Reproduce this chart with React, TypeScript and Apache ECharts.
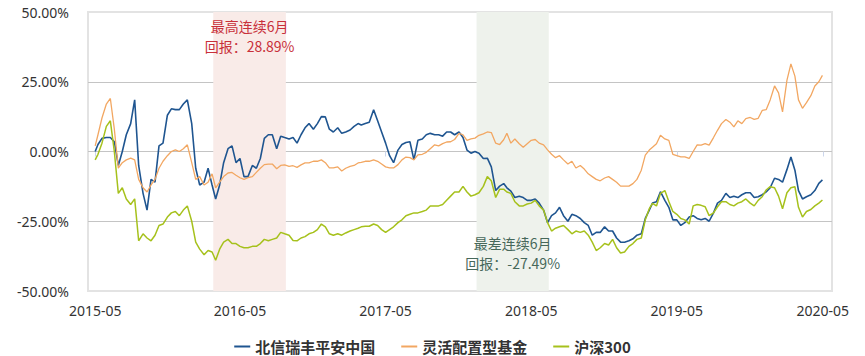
import React, { useEffect, useRef } from 'react';
import * as echarts from 'echarts';

// Sample dates (roughly every 10 days)
const dates = [
  '2015-05-04', '2015-05-11', '2015-05-21',
  '2015-06-01', '2015-06-11', '2015-06-21',
  '2015-07-01', '2015-07-11', '2015-07-21',
  '2015-08-01', '2015-08-11', '2015-08-21',
  '2015-09-01', '2015-09-11', '2015-09-21',
  '2015-10-01', '2015-10-11', '2015-10-21',
  '2015-11-01', '2015-11-11', '2015-11-21',
  '2015-12-01', '2015-12-11', '2015-12-21',
  '2016-01-01', '2016-01-11', '2016-01-21',
  '2016-02-01', '2016-02-11', '2016-02-21',
  '2016-03-01', '2016-03-11', '2016-03-21',
  '2016-04-01', '2016-04-11', '2016-04-21',
  '2016-05-01', '2016-05-11', '2016-05-21',
  '2016-06-01', '2016-06-11', '2016-06-21',
  '2016-07-01', '2016-07-11', '2016-07-21',
  '2016-08-01', '2016-08-11', '2016-08-21',
  '2016-09-01', '2016-09-11', '2016-09-21',
  '2016-10-01', '2016-10-11', '2016-10-21',
  '2016-11-01', '2016-11-11', '2016-11-21',
  '2016-12-01', '2016-12-11', '2016-12-21',
  '2017-01-01', '2017-01-11', '2017-01-21',
  '2017-02-01', '2017-02-11', '2017-02-21',
  '2017-03-01', '2017-03-11', '2017-03-21',
  '2017-04-01', '2017-04-11', '2017-04-21',
  '2017-05-01', '2017-05-11', '2017-05-21',
  '2017-06-01', '2017-06-11', '2017-06-21',
  '2017-07-01', '2017-07-11', '2017-07-21',
  '2017-08-01', '2017-08-11', '2017-08-21',
  '2017-09-01', '2017-09-11', '2017-09-21',
  '2017-10-01', '2017-10-11', '2017-10-21',
  '2017-11-01', '2017-11-11', '2017-11-21',
  '2017-12-01', '2017-12-11', '2017-12-21',
  '2018-01-01', '2018-01-11', '2018-01-21',
  '2018-02-01', '2018-02-11', '2018-02-21',
  '2018-03-01', '2018-03-11', '2018-03-21',
  '2018-04-01', '2018-04-11', '2018-04-21',
  '2018-05-01', '2018-05-11', '2018-05-21',
  '2018-06-01', '2018-06-11', '2018-06-21',
  '2018-07-01', '2018-07-11', '2018-07-21',
  '2018-08-01', '2018-08-11', '2018-08-21',
  '2018-09-01', '2018-09-11', '2018-09-21',
  '2018-10-01', '2018-10-11', '2018-10-21',
  '2018-11-01', '2018-11-11', '2018-11-21',
  '2018-12-01', '2018-12-11', '2018-12-21',
  '2019-01-01', '2019-01-11', '2019-01-21',
  '2019-02-01', '2019-02-11', '2019-02-21',
  '2019-03-01', '2019-03-11', '2019-03-21',
  '2019-04-01', '2019-04-11', '2019-04-21',
  '2019-05-01', '2019-05-11', '2019-05-21',
  '2019-06-01', '2019-06-11', '2019-06-21',
  '2019-07-01', '2019-07-11', '2019-07-21',
  '2019-08-01', '2019-08-11', '2019-08-21',
  '2019-09-01', '2019-09-11', '2019-09-21',
  '2019-10-01', '2019-10-11', '2019-10-21',
  '2019-11-01', '2019-11-11', '2019-11-21',
  '2019-12-01', '2019-12-11', '2019-12-21',
  '2020-01-01', '2020-01-11', '2020-01-21',
  '2020-02-01', '2020-02-11', '2020-02-21',
  '2020-03-01', '2020-03-11', '2020-03-21',
  '2020-04-01', '2020-04-11', '2020-04-21', '2020-04-30',
];

// 北信瑞丰平安中国 (%)
const fundValues = [
  0, 2.5, 4.7,
  5.0, 5.0, 3.5,
  -5, 0, 6,
  10, 18.5, -5,
  -15, -21, -10,
  -11, 2, 3,
  13, 15.3, 15,
  15, 17, 18.5,
  10, -6, -12,
  -11, -6, -12,
  -17, -12, -4,
  1, 2, -4,
  -2.5, -9, -9,
  -5, -6, -2.5,
  4.7, 6, 6,
  1, 5.5, 5,
  4.5, 5, 3,
  6, 8.5, 10,
  8, 10, 12.5,
  12.4, 8, 7,
  8.5, 6.5, 7,
  7.7, 9, 10,
  9.5, 10, 10.5,
  15, 11, 7,
  3, -1.5, -4,
  0.5, 2.5, 3.2,
  3.5, -3, 4,
  4.5, 6, 6.5,
  6, 6, 5.5,
  7, 7, 6,
  7, 5, 0.5,
  -0.6, 0, -0.6,
  -2.5, -2.4, -5.5,
  -14, -12.4, -11.5,
  -13, -14.2, -16.5,
  -16, -16.5, -17.5,
  -17.5, -17, -18.5,
  -21, -25.5, -23,
  -22, -20, -23,
  -25, -22.5, -23,
  -24, -25.5, -26.5,
  -30, -29, -29,
  -27, -28.5, -28.5,
  -31, -32.5, -32.5,
  -32, -31.3, -30,
  -29.5, -24, -21,
  -18.5, -18, -14.4,
  -17.5, -20, -24.5,
  -24.5, -26.5, -25.5,
  -23.5, -23, -24,
  -24.5, -24, -25,
  -22, -18.5, -17.5,
  -15, -16.5, -16,
  -16.5, -15.5, -14.8,
  -14.8, -16.5, -16.2,
  -15.5, -14.5, -13,
  -9.6, -10, -11,
  -6.5, -2, -6.7,
  -14, -17, -16.2,
  -15.5, -14, -11.4, -10.2,
];

// 灵活配置型基金 (%)
const peerValues = [
  2, 6, 12,
  17, 19, 8,
  -6, -4, -3,
  -2.4, -3, -10,
  -13, -14.5, -12,
  -10, -6, -3.5,
  -1.5, 0, 0.6,
  0, 1, 2.4,
  -4, -10, -9,
  -12, -11, -8,
  -13, -11, -9,
  -7.7, -7.5, -8.5,
  -9.4, -10, -9.4,
  -9, -7.5, -6,
  -4.7, -4.5, -4.5,
  -6.2, -5, -4.8,
  -5.3, -5.1, -5.7,
  -4.8, -4.1, -4.1,
  -3.5, -3.5, -3,
  -4, -5.9, -5.9,
  -5.5, -7, -6,
  -5.3, -5, -4.1,
  -3.9, -3.5, -3.5,
  -3, -3.5, -4.5,
  -5.5, -5.9, -5.9,
  -4.7, -3, -2,
  -2.2, -3, -1.2,
  -1, -0.3, 1,
  2.4, 2, 2.8,
  3.4, 3.5, 4.3,
  6.5, 6, 4,
  4.5, 4.8, 5.8,
  6.3, 7, 6.8,
  3, 2.5, 4.2,
  6.5, 3, 4.5,
  2.8, 1.5, 2.8,
  4, 4.3, 3,
  2.4, 0.6, -1,
  -2.2, -1.5, -3,
  -4.5, -3.5, -5.9,
  -5, -6.3, -8,
  -9, -10, -10.5,
  -9.5, -9, -10,
  -11, -12.4, -12.4,
  -12.4, -11.5, -10,
  -6.7, -1.3, 0.5,
  1.5, 2.8, 5.8,
  4.5, 4, -1,
  -1.5, -1.9, -1.9,
  -2.5, 0, 2.4,
  2.3, 2.8, 2.3,
  5, 7.6, 10,
  11.5, 10.5, 8.8,
  11, 10, 11.8,
  12.2, 11.5, 11.9,
  14.7, 15, 18.5,
  23.5, 21, 14.2,
  25.5, 31.4, 27,
  18.5, 15.5, 17.5,
  20, 23.5, 25, 27.3,
];

// 沪深300 (%)
const indexValues = [
  -3, -1, 3,
  9, 11, 0,
  -15, -13, -17,
  -19, -17, -32,
  -29.5, -31, -32,
  -30, -26.5, -26,
  -23.5, -22, -21.5,
  -23, -21, -19.5,
  -25, -32.5, -35,
  -37, -35.5, -36,
  -39, -35, -32.5,
  -31.5, -33, -33,
  -34, -34.5, -34.5,
  -34, -34, -33,
  -31.5, -32, -31.5,
  -31, -29, -29.5,
  -30, -31.9, -32,
  -31, -30.5, -29.5,
  -29, -28, -26,
  -27, -29.5, -30,
  -29.5, -30, -29.2,
  -28.5, -28, -27.5,
  -27, -26.8, -26.8,
  -26, -26.5, -28,
  -29, -28, -27,
  -25.5, -24.5, -23,
  -22.5, -22, -22,
  -21.5, -21, -19.5,
  -19.5, -19.5, -19,
  -17.5, -16, -14.5,
  -14.5, -12.5, -14.5,
  -16, -15.5, -14.8,
  -12.5, -9, -10.5,
  -16.5, -13.5, -13.5,
  -14.5, -15, -18,
  -19.5, -19.5, -18.8,
  -18.5, -17.5, -19.5,
  -21, -25.5, -28.5,
  -27.5, -27, -26.5,
  -28, -29.5, -28.5,
  -29, -28.5, -30,
  -32.5, -35.5, -34.5,
  -33, -33.5, -31.5,
  -34.5, -36.4, -36,
  -34, -33, -31.5,
  -31, -24.5, -20.5,
  -18.6, -19.5, -15,
  -14, -17.9, -21.5,
  -22.5, -24, -24.5,
  -26, -19.5, -19,
  -19.3, -19.8, -23,
  -22, -19.8, -18,
  -18, -19, -19.5,
  -18.5, -18, -17,
  -18.5, -19.5, -17.5,
  -16.2, -13.8, -12.6,
  -13, -16, -20.5,
  -14.8, -13, -12.6,
  -20, -23.5, -21.5,
  -20.8, -19.5, -18.5, -17.4,
];

const seriesNames = ['北信瑞丰平安中国', '灵活配置型基金', '沪深300'];
const seriesColors = ['#1f5590', '#f2a762', '#a6c11c'];
const seriesWidths = [1.6, 1.3, 1.5];
const xTickDates = ['2015-05-04', '2016-05-01', '2017-05-01', '2018-05-01', '2019-05-01', '2020-05-01'];
const xRange = ['2015-04-16', '2020-05-24'];
const yMin = -50;
const yMax = 50;
const yStep = 25;
const bestPeriod = ['2016-02-24', '2016-08-24'];
const worstPeriod = ['2017-12-15', '2018-06-14'];
const bestLabel = '最高连续6月\n回报：28.89%';
const worstLabel = '最差连续6月\n回报：-27.49%';

const LATIN = "'Microsoft YaHei', 'Noto Sans', 'Noto Sans CJK SC', sans-serif";
const CJK = "'Microsoft YaHei', 'Noto Sans CJK SC', sans-serif";

function toTs(s: string): number {
  const [y, m, d] = s.split('-').map(Number);
  return new Date(y, m - 1, d).getTime();
}

function pad(n: number) {
  return n < 10 ? '0' + n : '' + n;
}

export default function App() {
  const ref = useRef<HTMLDivElement>(null);

  useEffect(() => {
    document.body.style.margin = '0';
    if (!ref.current) return;
    const chart = echarts.init(ref.current, undefined, { renderer: 'svg' });
    const valueSets = [fundValues, peerValues, indexValues];
    const tickTs = xTickDates.map(toTs);

    const lineSeries: any[] = seriesNames.map((name, i) => ({
      name,
      type: 'line',
      showSymbol: false,
      symbol: 'none',
      z: 3 + i,
      data: dates.map((d, j) => [toTs(d), valueSets[i][j]]),
      lineStyle: { color: seriesColors[i], width: seriesWidths[i] },
      itemStyle: { color: seriesColors[i] },
    }));

    const bgSeries = {
      name: 'bg',
      type: 'line',
      data: [],
      silent: true,
      z: 1,
      markArea: {
        silent: true,
        data: [
          [
            {
              xAxis: toTs(bestPeriod[0]),
              itemStyle: { color: '#f9ebe8' },
              label: {
                show: true,
                position: 'insideTop',
                distance: 4,
                formatter: bestLabel,
                color: '#c8303a',
                fontSize: 14,
                lineHeight: 20,
                fontFamily: CJK,
              },
            },
            { xAxis: toTs(bestPeriod[1]) },
          ],
          [
            {
              xAxis: toTs(worstPeriod[0]),
              itemStyle: { color: '#eef2ec' },
              label: {
                show: true,
                position: 'insideBottom',
                distance: 18,
                formatter: worstLabel,
                color: '#46685a',
                fontSize: 14,
                lineHeight: 20,
                fontFamily: CJK,
              },
            },
            { xAxis: toTs(worstPeriod[1]) },
          ],
        ],
      },
    };

    chart.setOption({
      animation: false,
      grid: {
        left: 88,
        right: 33,
        top: 12,
        bottom: 65,
        show: true,
        borderColor: '#e3e3e3',
        borderWidth: 2,
      },
      legend: {
        data: seriesNames,
        left: 'center',
        top: 334,
        icon: 'rect',
        itemWidth: 16,
        itemHeight: 2,
        itemGap: 26,
        textStyle: { fontSize: 15, fontWeight: 'bold', color: '#333', fontFamily: CJK },
      },
      xAxis: {
        type: 'value',
        min: toTs(xRange[0]),
        max: toTs(xRange[1]),
        axisLine: { show: false },
        axisTick: {
          show: true,
          customValues: tickTs,
          length: 5,
          lineStyle: { color: '#ccd6eb', width: 1 },
        },
        axisLabel: {
          customValues: tickTs,
          color: '#333',
          fontSize: 14,
          margin: 12,
          fontFamily: LATIN,
          formatter: (v: number) => {
            const d = new Date(v);
            return d.getFullYear() + '-' + pad(d.getMonth() + 1);
          },
        },
        splitLine: { show: false },
      },
      yAxis: {
        type: 'value',
        min: yMin,
        max: yMax,
        interval: yStep,
        axisLine: { show: false },
        axisTick: { show: false },
        axisLabel: {
          color: '#333',
          fontSize: 14,
          margin: 19,
          fontFamily: LATIN,
          formatter: (v: number) => v.toFixed(2) + '%',
        },
        splitLine: {
          show: true,
          showMinLine: false,
          showMaxLine: false,
          lineStyle: { color: '#c4c4c4', width: 1 },
        },
      },
      series: [bgSeries, ...lineSeries],
    });

    return () => chart.dispose();
  }, []);

  return <div ref={ref} style={{ width: 865, height: 356 }} />;
}
